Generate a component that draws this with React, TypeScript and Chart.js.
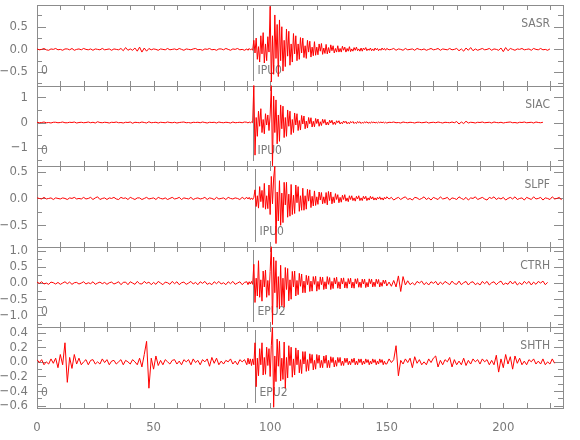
import { useEffect, useRef } from "react";
import { Chart, registerables } from "chart.js";

Chart.register(...registerables);

// ---------- data ----------
const STATIONS = ["SASR", "SIAC", "SLPF", "CTRH", "SHTH"];
const PICK_LABELS = ["IPU0", "IPU0", "IPU0", "EPU2", "EPU2"];
const PICK_TIMES = [92.6, 92.7, 93.4, 92.6, 93.4];
const ORIGIN_LABELS = ["0", "0", "", "0", "0"];
const Y_MIN = [-0.8, -1.74, -0.9, -1.37, -0.63];
const Y_MAX = [0.98, 1.47, 0.6, 1.12, 0.47];
const Y_LABEL_TICKS = [
  [-0.5, 0, 0.5],
  [-1, 0, 1],
  [-0.5, 0, 0.5],
  [-1, -0.5, 0, 0.5, 1],
  [-0.6, -0.4, -0.2, 0, 0.2, 0.4],
];
const Y_MINOR_STEP = [0.25, 0.5, 0.25, 0.25, 0.1];
const Y_DECIMALS = [1, 0, 1, 1, 1];
const X_LABEL_TICKS = [0, 50, 100, 150, 200];
const X_MINOR_STEP = 10;
const X_MAX = 225.6;

// sampling: pre-event (0 s, 1 s step), event window (90 s, 0.5 s step), coda (150 s, 1 s step)
const PRE_START = 0;
const PRE_STEP = 1;
const EVENT_START = 90;
const EVENT_STEP = 0.5;
const POST_START = 150;
const POST_STEP = 1;

// ---- SASR ----
const SASR_PRE = [
  0.01, -0.01, 0.0, 0.02, -0.01, -0.02, 0.01, 0.0, 0.02, -0.01,
  0.0, -0.02, 0.01, 0.01, -0.01, 0.02, -0.02, 0.0, 0.01, -0.01,
  0.02, 0.0, -0.01, 0.01, -0.02, 0.01, 0.0, -0.01, 0.02, -0.01,
  0.0, 0.01, -0.02, 0.01, 0.0, -0.01, 0.02, -0.03, 0.04, -0.02,
  0.01, -0.02, 0.03, -0.04, 0.05, -0.06, 0.03, -0.04, 0.02, -0.01,
  0.01, 0.0, -0.02, 0.01, 0.0, -0.01, 0.02, -0.01, 0.0, 0.01,
  -0.01, 0.02, 0.0, -0.02, 0.01, 0.0, -0.01, 0.01, 0.02, -0.01,
  0.0, -0.02, 0.01, 0.0, 0.02, -0.01, 0.0, -0.02, 0.01, 0.01,
  -0.01, 0.02, 0.0, -0.02, 0.01, 0.0, 0.02, -0.01, 0.0, -0.02,
];
const SASR_EVENT = [
  0.01, -0.02, 0.02, -0.01, 0.01, -0.02, 0.2, -0.08, 0.25, -0.22,
  0.06, -0.28, 0.3, -0.1, 0.37, -0.3, 0.12, -0.25, 0.28, -0.06,
  0.95, -0.72, 0.3, -0.55, 0.76, -0.2, 0.55, -0.6, 0.65, -0.25,
  0.5, -0.48, 0.2, -0.38, 0.45, -0.15, 0.4, -0.35, 0.12, -0.28,
  0.35, -0.1, 0.3, -0.25, 0.12, -0.22, 0.26, -0.08, 0.25, -0.18,
  0.08, -0.2, 0.2, -0.06, 0.18, -0.17, 0.05, -0.14, 0.17, -0.13,
  0.05, -0.12, 0.12, -0.04, 0.13, -0.11, 0.03, -0.09, 0.11, -0.1,
  0.04, -0.08, 0.1, -0.03, 0.08, -0.08, 0.02, -0.06, 0.08, -0.06,
  0.02, -0.06, 0.07, -0.02, 0.05, -0.06, 0.02, -0.04, 0.06, -0.05,
  0.01, -0.04, 0.04, -0.02, 0.05, -0.03, 0.01, -0.04, 0.03, -0.04,
  0.03, -0.01, 0.04, -0.03, 0.01, -0.02, 0.03, -0.03, 0.01, -0.03,
  0.03, -0.01, 0.02, -0.03, 0.01, -0.02, 0.03, -0.01, 0.02, -0.02,
];
const SASR_POST = [
  0.02, -0.01, 0.0, 0.02, -0.02, 0.01, 0.0, -0.02, 0.02, -0.01,
  0.0, 0.01, -0.02, 0.02, 0.0, -0.01, 0.01, -0.02, 0.0, 0.02,
  -0.01, 0.0, 0.02, -0.02, 0.01, 0.0, -0.01, 0.02, -0.01, 0.0,
  0.02, -0.03, 0.01, -0.04, 0.03, -0.02, 0.04, -0.03, 0.01, -0.02,
  0.0, 0.02, -0.01, 0.0, 0.02, -0.02, 0.01, 0.0, -0.02, 0.03,
  -0.05, 0.04, -0.03, 0.02, 0.0, -0.02, 0.01, 0.0, 0.02, -0.01,
  0.0, 0.01, -0.02, 0.02, 0.0, -0.01, 0.02, -0.01, 0.0, -0.02, 0.01,
];

// ---- SIAC ----
const SIAC_PRE = [
  0.01, -0.01, 0.0, 0.02, -0.01, 0.0, -0.02, 0.01, 0.01, -0.01,
  0.0, 0.02, -0.01, -0.01, 0.01, 0.0, 0.02, -0.02, 0.0, 0.01,
  -0.01, 0.0, 0.02, -0.01, 0.01, -0.02, 0.03, 0.0, -0.01, 0.01,
  0.0, -0.02, 0.01, 0.0, 0.02, -0.01, 0.0, -0.02, 0.01, 0.0,
  0.02, -0.03, 0.01, 0.0, -0.01, 0.02, 0.0, -0.02, 0.03, -0.01,
  0.0, 0.01, -0.02, 0.01, 0.0, -0.01, 0.02, 0.0, -0.01, 0.01,
  -0.02, 0.0, 0.01, 0.02, -0.01, 0.0, -0.02, 0.01, 0.0, 0.01,
  -0.01, 0.02, 0.0, -0.02, 0.01, 0.0, 0.01, -0.02, 0.02, 0.0,
  -0.01, 0.01, 0.0, -0.02, 0.02, -0.01, 0.0, 0.01, -0.01, 0.02,
];
const SIAC_EVENT = [
  0.01, -0.02, 0.02, -0.01, 0.02, -0.01, 1.52, -1.3, 0.2, -0.55,
  0.45, -0.15, 0.55, -0.4, 0.12, -0.45, 0.35, -0.1, 0.3, -0.32,
  0.3, 1.48, -1.72, 1.05, -0.4, 0.9, -0.85, 0.3, -0.75, 0.7,
  -0.25, 0.65, -0.6, 0.2, -0.55, 0.5, -0.15, 0.45, -0.48, 0.12,
  -0.4, 0.38, -0.1, 0.35, -0.32, 0.08, -0.3, 0.28, -0.06, 0.26,
  -0.25, 0.06, -0.22, 0.2, -0.05, 0.19, -0.18, 0.05, -0.17, 0.16,
  -0.04, 0.14, -0.15, 0.03, -0.12, 0.13, -0.03, 0.12, -0.1, 0.02,
  -0.1, 0.09, -0.02, 0.09, -0.08, 0.02, -0.08, 0.07, -0.01, 0.07,
  -0.06, 0.01, -0.05, 0.06, -0.01, 0.05, -0.05, 0.01, -0.05, 0.04,
  -0.01, 0.04, -0.04, 0.01, -0.04, 0.04, -0.01, 0.03, -0.04, 0.01,
  -0.03, 0.03, -0.01, 0.03, -0.03, 0.01, -0.03, 0.03, -0.01, 0.02,
  -0.02, 0.01, -0.02, 0.02, -0.01, 0.02, -0.01, 0.02, -0.02, 0.01,
];
const SIAC_POST = [
  -0.02, 0.01, 0.0, 0.02, -0.01, 0.0, -0.02, 0.02, 0.0, -0.01,
  0.01, 0.0, -0.02, 0.01, 0.01, -0.01, 0.0, 0.02, -0.02, 0.0,
  0.01, -0.01, 0.02, 0.0, -0.02, 0.01, 0.0, -0.01, 0.02, -0.01,
  0.04, -0.06, 0.02, -0.04, 0.05, -0.02, 0.01, 0.0, -0.02, 0.01,
  0.0, 0.02, -0.01, 0.0, 0.01, -0.02, 0.02, 0.0, -0.01, 0.01,
  -0.02, 0.0, 0.01, 0.02, -0.01, 0.0, -0.02, 0.01, 0.0, 0.02,
  -0.01, 0.0, 0.01, -0.02, 0.02, 0.0, -0.01, 0.01,
];

// ---- SLPF ----
const SLPF_PRE = [
  0.01, 0.0, -0.01, 0.02, -0.01, 0.0, 0.01, -0.02, 0.01, 0.0,
  -0.01, 0.01, 0.0, -0.02, 0.01, 0.0, 0.02, -0.01, 0.0, -0.01,
  0.02, -0.01, 0.0, 0.02, -0.02, 0.01, 0.03, -0.02, 0.0, 0.01,
  -0.02, 0.01, 0.0, 0.02, -0.01, -0.02, 0.02, 0.0, 0.01, -0.02,
  0.02, 0.0, -0.02, 0.01, 0.01, -0.02, 0.0, 0.02, -0.01, 0.0,
  0.01, -0.02, 0.02, 0.0, -0.01, 0.01, -0.02, 0.0, 0.02, -0.01,
  0.0, 0.02, -0.02, 0.01, 0.0, -0.01, 0.02, -0.02, 0.0, 0.01,
  -0.01, 0.0, 0.02, -0.02, 0.01, 0.0, -0.02, 0.02, -0.01, 0.0,
  0.01, -0.02, 0.02, 0.0, -0.01, 0.01, 0.0, -0.02, 0.02, -0.01,
];
const SLPF_EVENT = [
  0.02, -0.01, 0.02, -0.02, 0.01, -0.02, 0.02, 0.16, -0.15, 0.05,
  -0.18, 0.22, -0.06, 0.15, -0.17, 0.28, -0.2, 0.05, -0.19, 0.25,
  -0.3, 0.41, -0.1, 0.38, 0.6, -0.84, 0.12, -0.42, 0.33, -0.5,
  0.1, -0.45, 0.3, -0.12, 0.3, -0.35, 0.08, -0.33, 0.26, -0.3,
  0.06, -0.28, 0.25, -0.08, 0.22, -0.24, 0.05, -0.22, 0.19, -0.22,
  0.05, -0.2, 0.17, -0.05, 0.16, -0.17, 0.04, -0.14, 0.14, -0.13,
  0.03, -0.11, 0.12, -0.03, 0.11, -0.1, 0.03, -0.09, 0.11, -0.12,
  0.13, -0.04, 0.12, -0.1, 0.03, -0.08, 0.09, -0.02, 0.07, -0.08,
  0.02, -0.07, 0.06, -0.02, 0.07, -0.05, 0.01, -0.06, 0.05, -0.02,
  0.05, -0.04, 0.01, -0.05, 0.04, -0.01, 0.05, -0.04, 0.01, -0.04,
  0.04, -0.01, 0.04, -0.04, 0.01, -0.03, 0.04, -0.01, 0.03, -0.03,
  0.01, -0.03, 0.02, -0.01, 0.03, -0.02, 0.01, -0.03, 0.02, -0.01,
];
const SLPF_POST = [
  0.03, -0.01, 0.02, -0.03, 0.0, 0.02, -0.02, 0.01, 0.03, -0.02,
  0.0, -0.03, 0.02, 0.01, -0.02, 0.0, 0.03, -0.02, 0.01, -0.03,
  0.02, 0.0, -0.02, 0.03, -0.01, 0.0, 0.02, -0.03, 0.01, 0.0,
  -0.02, 0.03, 0.0, -0.02, 0.02, -0.03, 0.01, 0.0, 0.03, -0.02,
  0.0, 0.02, -0.01, -0.03, 0.02, 0.0, 0.03, -0.02, 0.01, -0.01,
  0.02, -0.03, 0.0, 0.02, -0.01, 0.03, -0.02, 0.0, 0.01, -0.03,
  0.02, 0.0, -0.02, 0.03, -0.01, 0.0, 0.02, -0.03, 0.01, 0.0,
  -0.02, 0.03, -0.01, 0.0, 0.02, -0.03,
];

// ---- CTRH ----
const CTRH_PRE = [
  0.03, -0.01, 0.04, -0.03, 0.0, -0.04, 0.03, 0.01, -0.03, 0.02,
  -0.04, 0.0, 0.04, -0.02, 0.03, -0.04, 0.01, 0.02, -0.03, 0.0,
  0.04, -0.03, 0.01, -0.02, 0.04, -0.04, 0.0, 0.03, -0.02, 0.02,
  -0.04, 0.01, 0.03, -0.03, 0.0, 0.04, -0.05, 0.02, 0.03, -0.05,
  0.04, 0.0, -0.04, 0.05, -0.02, -0.03, 0.05, -0.01, 0.03, -0.05,
  0.02, -0.04, 0.05, 0.0, -0.05, 0.03, 0.01, -0.04, 0.05, -0.02,
  0.04, -0.05, 0.01, 0.03, -0.04, 0.0, 0.05, -0.03, 0.02, -0.05,
  0.04, -0.01, 0.05, -0.04, 0.0, -0.05, 0.04, -0.02, 0.05, -0.03,
  0.01, -0.05, 0.04, -0.02, 0.05, -0.04, 0.0, 0.04, -0.05, 0.02,
];
const CTRH_EVENT = [
  0.04, -0.05, 0.04, -0.03, 0.05, -0.04, 0.58, -0.6, 0.15, -0.4,
  0.69, -0.44, 0.1, -0.56, 0.37, -0.12, 0.4, -0.44, 0.08, -0.38,
  0.36, 1.2, -1.28, 0.8, -0.3, 0.69, -0.75, 0.2, -0.8, 0.55,
  -0.7, 0.15, -0.75, 0.48, -0.2, 0.45, -0.55, 0.1, -0.5, 0.36,
  -0.12, 0.37, -0.4, 0.08, -0.36, 0.3, -0.1, 0.28, -0.3, 0.06,
  -0.3, 0.24, -0.05, 0.22, -0.26, 0.06, -0.25, 0.2, -0.04, 0.21,
  -0.25, 0.05, -0.2, 0.19, -0.05, 0.18, -0.2, 0.04, -0.18, 0.2,
  -0.04, 0.17, -0.2, 0.05, -0.17, 0.16, -0.03, 0.18, -0.16, 0.04,
  -0.18, 0.15, -0.03, 0.16, -0.15, 0.04, -0.16, 0.14, -0.03, 0.15,
  -0.15, 0.03, -0.16, 0.13, -0.02, 0.14, -0.13, 0.03, -0.14, 0.12,
  -0.03, 0.12, -0.14, 0.02, -0.12, 0.13, -0.02, 0.12, -0.12, 0.03,
  -0.11, 0.12, -0.02, 0.11, -0.12, 0.02, -0.1, 0.09, -0.02, 0.09,
];
const CTRH_POST = [
  -0.09, 0.03, -0.1, 0.08, -0.12, 0.22, -0.26, 0.2, -0.06, 0.07,
  -0.05, 0.01, -0.06, 0.05, 0.0, 0.06, -0.05, 0.02, -0.06, 0.04,
  -0.01, 0.05, -0.06, 0.03, -0.04, 0.05, 0.0, -0.05, 0.06, -0.02,
  -0.04, 0.06, -0.05, 0.01, 0.05, -0.06, 0.02, 0.04, -0.05, 0.0,
  -0.06, 0.05, -0.02, 0.05, -0.06, 0.01, 0.04, -0.05, 0.02, 0.06,
  -0.05, 0.0, -0.04, 0.06, -0.03, 0.05, -0.06, 0.01, -0.05, 0.05,
  -0.02, 0.05, -0.06, 0.03, -0.04, 0.05, 0.0, 0.06, -0.05, 0.02,
];

// ---- SHTH ----
const SHTH_PRE = [
  0.03, -0.01, 0.03, -0.04, 0.0, -0.03, 0.04, -0.02, 0.05, -0.08,
  0.1, -0.04, 0.26, -0.28, 0.06, -0.09, 0.1, -0.03, 0.05, -0.04,
  0.0, 0.03, -0.04, 0.02, 0.03, -0.03, 0.0, -0.03, 0.04, -0.01,
  0.03, -0.04, 0.01, 0.02, -0.03, 0.0, 0.03, -0.04, 0.02, 0.0,
  -0.03, 0.03, 0.0, -0.04, 0.05, -0.07, 0.1, 0.28, -0.36, 0.05,
  -0.1, 0.08, -0.05, 0.02, -0.04, 0.03, 0.0, -0.03, 0.02, 0.03,
  -0.03, 0.01, -0.04, 0.03, 0.0, 0.03, -0.04, 0.04, -0.01, 0.02,
  -0.04, 0.03, 0.0, 0.04, -0.06, 0.06, -0.02, 0.05, -0.04, 0.01,
  -0.03, 0.02, 0.0, 0.04, -0.03, 0.01, -0.04, 0.03, 0.0, 0.03,
];
const SHTH_EVENT = [
  -0.04, 0.05, -0.03, 0.04, -0.05, 0.04, -0.04, 0.26, -0.34, 0.05,
  -0.19, 0.18, -0.04, 0.26, -0.18, 0.06, -0.17, 0.2, -0.05, 0.18,
  -0.2, 0.22, 0.5, -0.62, 0.08, -0.27, 0.31, -0.06, 0.28, -0.26,
  0.05, -0.24, 0.27, -0.36, 0.06, -0.22, 0.22, -0.05, 0.2, -0.21,
  0.04, -0.18, 0.19, -0.04, 0.16, -0.15, 0.03, -0.16, 0.14, -0.03,
  0.14, -0.13, 0.03, -0.12, 0.11, -0.02, 0.1, -0.11, 0.02, -0.1,
  0.1, -0.02, 0.09, -0.08, 0.02, -0.08, 0.08, -0.02, 0.09, -0.08,
  0.02, -0.08, 0.07, -0.01, 0.06, -0.07, 0.02, -0.06, 0.06, -0.01,
  0.06, -0.05, 0.01, -0.05, 0.05, -0.01, 0.05, -0.04, 0.01, -0.04,
  0.04, -0.01, 0.05, -0.04, 0.01, -0.04, 0.04, -0.01, 0.04, -0.04,
  0.01, -0.03, 0.04, -0.01, 0.03, -0.04, 0.01, -0.03, 0.04, -0.01,
  0.03, -0.04, 0.01, -0.03, 0.04, -0.01, 0.03, -0.04, 0.01, -0.03,
];
const SHTH_POST = [
  -0.03, 0.04, -0.01, 0.03, 0.22, -0.19, 0.02, -0.03, 0.04, -0.01,
  0.05, -0.08, 0.07, -0.02, 0.03, -0.04, 0.0, -0.04, 0.04, -0.01,
  0.05, 0.08, -0.07, 0.02, -0.04, 0.03, 0.0, 0.06, -0.07, 0.03,
  -0.04, 0.01, -0.04, 0.05, -0.05, 0.02, -0.03, 0.04, 0.0, 0.03,
  -0.03, 0.04, 0.0, 0.03, -0.04, 0.02, -0.04, 0.09, -0.14, 0.04,
  -0.08, 0.1, -0.03, 0.07, -0.1, 0.08, -0.02, 0.05, -0.04, 0.01,
  -0.04, 0.03, 0.0, 0.04, -0.03, 0.01, -0.03, 0.04, -0.04, 0.0,
  -0.03, 0.04, -0.02,
];

const SERIES_PRE = [SASR_PRE, SIAC_PRE, SLPF_PRE, CTRH_PRE, SHTH_PRE];
const SERIES_EVENT = [SASR_EVENT, SIAC_EVENT, SLPF_EVENT, CTRH_EVENT, SHTH_EVENT];
const SERIES_POST = [SASR_POST, SIAC_POST, SLPF_POST, CTRH_POST, SHTH_POST];

// ---------- styling ----------
const TRACE_COLOR = "#ff0000";
const AXIS_COLOR = "#8c8c8c";
const TEXT_COLOR = "#7a7a7a";
const FONT_FAMILY = "'Liberation Sans Narrow', 'DejaVu Sans Condensed', 'Liberation Sans', sans-serif";
const PANEL_IDS = STATIONS.map((_, i) => `y${i}`);

const segment = (vals: number[], start: number, step: number) =>
  vals.map((y, k) => ({ x: start + k * step, y }));

const fmt = (v: number, d: number) => {
  const s = Math.abs(v).toFixed(d);
  return v < -1e-9 ? "\u2212" + s : s;
};

const framePlugin = {
  id: "seisFrame",
  beforeDatasetsDraw(chart: any) {
    const { ctx, chartArea, scales } = chart;
    const xs = scales.x;
    const left = Math.round(chartArea.left);
    const right = Math.round(chartArea.right);
    ctx.save();
    PANEL_IDS.forEach((id, i) => {
      const ys = scales[id];
      const top = Math.round(ys.top);
      const bottom = Math.round(ys.bottom);
      ctx.strokeStyle = AXIS_COLOR;
      ctx.lineWidth = 1;
      ctx.strokeRect(left + 0.5, top + 0.5, right - left, bottom - top);
      ctx.beginPath();
      const step = Y_MINOR_STEP[i];
      const k0 = Math.ceil(Y_MIN[i] / step - 1e-6);
      const k1 = Math.floor(Y_MAX[i] / step + 1e-6);
      for (let k = k0; k <= k1; k++) {
        const v = k * step;
        const y = Math.round(ys.getPixelForValue(v)) + 0.5;
        const major = Y_LABEL_TICKS[i].some((t) => Math.abs(t - v) < 1e-6);
        const len = major ? 9 : 5;
        ctx.moveTo(left, y);
        ctx.lineTo(left + len, y);
        ctx.moveTo(right, y);
        ctx.lineTo(right - len, y);
      }
      for (let k = 0; k * X_MINOR_STEP <= X_MAX; k++) {
        const x = Math.round(xs.getPixelForValue(k * X_MINOR_STEP)) + 0.5;
        ctx.moveTo(x, top);
        ctx.lineTo(x, top + 5);
        ctx.moveTo(x, bottom);
        ctx.lineTo(x, bottom - 5);
      }
      ctx.stroke();
      const px = Math.round(xs.getPixelForValue(PICK_TIMES[i])) + 0.5;
      ctx.beginPath();
      ctx.moveTo(px, top + 3);
      ctx.lineTo(px, bottom - 5);
      ctx.stroke();
      ctx.fillStyle = TEXT_COLOR;
      ctx.font = `12px ${FONT_FAMILY}`;
      ctx.textBaseline = "middle";
      ctx.textAlign = "left";
      ctx.fillText(PICK_LABELS[i], px + 4, bottom - 15);
      if (ORIGIN_LABELS[i]) ctx.fillText(ORIGIN_LABELS[i], left + 4, bottom - 15);
      ctx.textAlign = "right";
      ctx.fillText(STATIONS[i], right - 13, top + 19);
    });
    ctx.restore();
  },
};

function buildScales() {
  const scales: any = {
    x: {
      type: "linear",
      position: "bottom",
      min: 0,
      max: X_MAX,
      grid: { display: false },
      border: { display: false },
      ticks: {
        color: TEXT_COLOR,
        font: { family: FONT_FAMILY, size: 13 },
        padding: 4,
        maxRotation: 0,
        autoSkip: false,
        callback: (v: any) => String(v),
      },
      afterBuildTicks: (s: any) => {
        s.ticks = X_LABEL_TICKS.map((value) => ({ value }));
      },
      afterFit: (s: any) => {
        s.height = 32;
        s.paddingLeft = 0;
        s.paddingRight = 0;
      },
    },
  };
  PANEL_IDS.forEach((id, i) => {
    scales[id] = {
      type: "linear",
      position: "left",
      stack: "panels",
      stackWeight: 1,
      weight: PANEL_IDS.length - i,
      min: Y_MIN[i],
      max: Y_MAX[i],
      grid: { display: false },
      border: { display: false },
      ticks: {
        color: TEXT_COLOR,
        font: { family: FONT_FAMILY, size: 13 },
        padding: 1,
        autoSkip: false,
        callback: (v: any) => fmt(Number(v), Y_DECIMALS[i]),
      },
      afterBuildTicks: (s: any) => {
        s.ticks = Y_LABEL_TICKS[i].map((value) => ({ value }));
      },
      afterFit: (s: any) => {
        s.width = 37;
        s.paddingTop = 0;
        s.paddingBottom = 0;
      },
    };
  });
  return scales;
}

export default function App() {
  const ref = useRef<HTMLCanvasElement>(null);
  useEffect(() => {
    if (!ref.current) return;
    const chart = new Chart(ref.current, {
      type: "line",
      data: {
        datasets: STATIONS.map((name, i) => ({
          label: name,
          data: [
            ...segment(SERIES_PRE[i], PRE_START, PRE_STEP),
            ...segment(SERIES_EVENT[i], EVENT_START, EVENT_STEP),
            ...segment(SERIES_POST[i], POST_START, POST_STEP),
          ],
          yAxisID: PANEL_IDS[i],
          borderColor: TRACE_COLOR,
          borderWidth: 1,
          pointRadius: 0,
          tension: 0,
          fill: false,
        })),
      },
      options: {
        animation: false,
        responsive: false,
        devicePixelRatio: 1,
        events: [],
        layout: { padding: { left: 0, right: 17, top: 5, bottom: 0 } },
        plugins: { legend: { display: false }, tooltip: { enabled: false } },
        scales: buildScales(),
      },
      plugins: [framePlugin],
    } as any);
    return () => chart.destroy();
  }, []);
  return (
    <div style={{ position: "fixed", left: 0, top: 0, width: 580, height: 440, background: "#fff" }}>
      <canvas ref={ref} width={580} height={440} style={{ display: "block" }} />
    </div>
  );
}
